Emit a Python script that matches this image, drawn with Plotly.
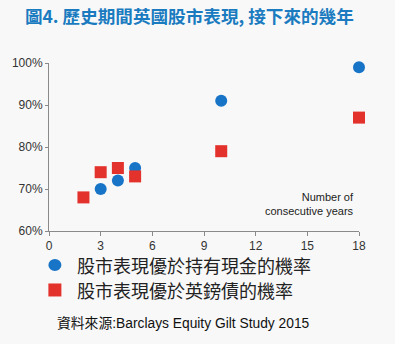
import plotly.graph_objects as go

# Consecutive years of UK equity performance vs. probability of outperforming
cash_years = [3, 4, 5, 10, 18]
cash_prob = [70, 72, 75, 91, 99]
gilt_years = [2, 3, 4, 5, 10, 18]
gilt_prob = [68, 74, 75, 73, 79, 87]
series_names = ["股市表現優於持有現金的機率", "股市表現優於英鎊債的機率"]

x_ticks = [0, 3, 6, 9, 12, 15, 18]
y_ticks = [60, 70, 80, 90, 100]

BLUE = "#1874c6"
RED = "#e3312b"
FONT = "Liberation Sans, Arial, Noto Sans CJK TC, sans-serif"
CJK = "Noto Sans CJK TC, sans-serif"

fig = go.Figure()
fig.add_trace(go.Scatter(
    x=cash_years, y=cash_prob, mode="markers", cliponaxis=False,
    name=series_names[0],
    marker=dict(symbol="circle", size=12, color=BLUE),
))
fig.add_trace(go.Scatter(
    x=gilt_years, y=gilt_prob, mode="markers", cliponaxis=False,
    name=series_names[1],
    marker=dict(symbol="square", size=12, color=RED),
))

# Hand-placed key below the axes (paper coordinates)
key_x = 0.019
key_text_x = 0.084
key_rows = [-0.202, -0.351]
shapes = [
    dict(type="circle", xref="paper", yref="paper", xsizemode="pixel", ysizemode="pixel",
         xanchor=key_x, yanchor=key_rows[0], x0=-6.5, x1=6.5, y0=-6, y1=6,
         fillcolor=BLUE, line=dict(width=0)),
    dict(type="rect", xref="paper", yref="paper", xsizemode="pixel", ysizemode="pixel",
         xanchor=key_x, yanchor=key_rows[1], x0=-6.5, x1=6.5, y0=-6.5, y1=6.5,
         fillcolor=RED, line=dict(width=0)),
]
key_labels = [
    dict(text=name, xref="paper", yref="paper", x=key_text_x, y=row,
         xanchor="left", yanchor="middle", showarrow=False,
         font=dict(size=18, color="#222222", family=CJK))
    for name, row in zip(series_names, key_rows)
]

fig.update_layout(
    width=395, height=344,
    margin=dict(l=49, r=36, t=63, b=113),
    paper_bgcolor="#f8f8f8", plot_bgcolor="#f8f8f8",
    font=dict(family=FONT, color="#333333", size=11),
    showlegend=False,
    shapes=shapes,
    title=dict(
        text="<b>圖4. 歷史期間英國股市表現, 接下來的幾年</b>",
        x=0.063, xanchor="left", y=0.952, yanchor="middle",
        font=dict(size=17.6, color="#1a7bc0", family=CJK),
    ),
    xaxis=dict(
        range=[0, 18], tickvals=x_ticks, ticktext=[str(v) for v in x_ticks],
        showgrid=False, zeroline=False, showline=True, linecolor="#8a8a8a", linewidth=1,
        ticks="outside", ticklen=4, tickcolor="#8a8a8a",
        tickfont=dict(size=12, color="#333333"),
    ),
    yaxis=dict(
        range=[60, 100], tickvals=y_ticks, ticktext=[f"{v}%" for v in y_ticks],
        showgrid=False, zeroline=False, showline=True, linecolor="#8a8a8a", linewidth=1,
        ticks="outside", ticklen=3, tickcolor="#8a8a8a",
        tickfont=dict(size=12, color="#333333"),
    ),
    annotations=key_labels + [
        dict(
            text="Number of<br>consecutive years", xref="x", yref="y",
            x=17.85, y=62.9, xanchor="right", yanchor="bottom", align="right",
            showarrow=False, font=dict(size=11, color="#222222"),
        ),
        dict(
            text="資料來源:Barclays Equity Gilt Study 2015", xref="paper", yref="paper",
            x=0.02, y=-0.55, xanchor="left", yanchor="middle",
            showarrow=False, font=dict(size=13.8, color="#111111"),
        ),
    ],
)

fig.write_html("out.html")
